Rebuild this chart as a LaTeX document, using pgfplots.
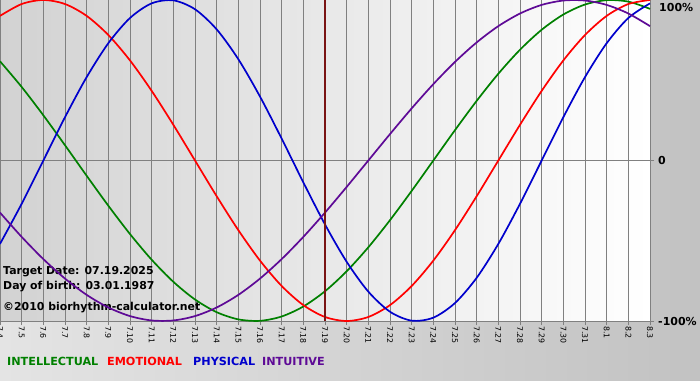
\documentclass[border=0pt]{standalone}
\usepackage{fontspec}
\setmainfont{DejaVu Sans}
\usepackage{pgfplots}
\pgfplotsset{compat=1.18}
\usepackage{pgfplotstable}
\definecolor{cint}{HTML}{008000}
\definecolor{cemo}{HTML}{FF0000}
\definecolor{cphy}{HTML}{0000CC}
\definecolor{cintu}{HTML}{5E0A96}
\definecolor{cgrid}{HTML}{808080}
\definecolor{ctarget}{HTML}{7A1414}
\definecolor{bgl}{HTML}{E4E4E4}
\definecolor{bgr}{HTML}{C2C2C2}
\definecolor{plotl}{HTML}{D2D2D2}

\pgfplotstableread{
d phy emo int intu
0 -0.5196 0.9010 0.6182 -0.3247
1 -0.2698 0.9749 0.4582 -0.4759
2 0 1 0.2817 -0.6142
3 0.2698 0.9749 0.0951 -0.7357
4 0.5196 0.9010 -0.0951 -0.8372
5 0.7308 0.7818 -0.2817 -0.9158
6 0.8879 0.6235 -0.4582 -0.9694
7 0.9791 0.4339 -0.6182 -0.9966
8 0.9977 0.2225 -0.7557 -0.9966
9 0.9423 0 -0.8660 -0.9694
10 0.8170 -0.2225 -0.9450 -0.9158
11 0.6311 -0.4339 -0.9898 -0.8372
12 0.3984 -0.6235 -0.9989 -0.7357
13 0.1362 -0.7818 -0.9718 -0.6142
14 -0.1362 -0.9010 -0.9096 -0.4759
15 -0.3984 -0.9749 -0.8146 -0.3247
16 -0.6311 -1 -0.6901 -0.1646
17 -0.8170 -0.9749 -0.5406 0
18 -0.9423 -0.9010 -0.3717 0.1646
19 -0.9977 -0.7818 -0.1893 0.3247
20 -0.9791 -0.6235 0 0.4759
21 -0.8879 -0.4339 0.1893 0.6142
22 -0.7308 -0.2225 0.3717 0.7357
23 -0.5196 0 0.5406 0.8372
24 -0.2698 0.2225 0.6901 0.9158
25 0 0.4339 0.8146 0.9694
26 0.2698 0.6235 0.9096 0.9966
27 0.5196 0.7818 0.9718 0.9966
28 0.7308 0.9010 0.9989 0.9694
29 0.8879 0.9749 0.9898 0.9158
30 0.9791 1 0.9450 0.8372
}\bio

\begin{document}
\begin{tikzpicture}
\useasboundingbox (0,0) rectangle (700pt,380pt);
\shade[left color=bgl, right color=bgr] (0,0) rectangle (700pt,380pt);
\begin{axis}[
  at={(0pt,59pt)}, anchor=south west,
  scale only axis, width=650pt, height=321pt,
  xmin=0, xmax=30, ymin=-1, ymax=1,
  clip=false,
  axis background/.style={left color=plotl, right color=white},
  axis x line*=bottom, axis y line*=right,
  axis line style={cgrid, line width=0.8pt, -},
  xtick={0,...,30},
  xticklabels={7.4,7.5,7.6,7.7,7.8,7.9,7.10,7.11,7.12,7.13,7.14,7.15,7.16,7.17,7.18,7.19,7.20,7.21,7.22,7.23,7.24,7.25,7.26,7.27,7.28,7.29,7.30,7.31,8.1,8.2,8.3},
  xticklabel style={rotate=-90, anchor=west, font=\fontsize{7.8}{9}\selectfont, inner sep=1pt},
  xmajorgrids, ymajorgrids,
  grid style={cgrid, line width=0.8pt},
  ytick={-1,0},
  yticklabels={-100\%,0},
  yticklabel style={font=\fontsize{11}{13}\bfseries, anchor=west, inner sep=2pt, xshift=2pt},
  extra y ticks={1},
  extra y tick labels={100\%},
  extra y tick style={grid=none, major tick length=0pt, yticklabel style={yshift=-7pt, xshift=5pt}},
  tick align=outside,
  major tick length=4pt,
  tick style={cgrid, line width=0.8pt},
  /pgf/number format/assume math mode=true,
]
\node[anchor=west, font=\fontsize{10.9}{12}\bfseries, inner sep=0pt] at (axis cs:0.14,-0.695) {Target Date: 07.19.2025};
\node[anchor=west, font=\fontsize{10.9}{12}\bfseries, inner sep=0pt] at (axis cs:0.14,-0.788) {Day of birth: 03.01.1987};
\node[anchor=west, font=\fontsize{10.9}{12}\bfseries, inner sep=0pt] at (axis cs:0.14,-0.913) {©2010 biorhythm-calculator.net};
\addplot[cint, line width=1.7pt, smooth] table[x=d, y=int] {\bio};
\addplot[cemo, line width=1.7pt, smooth] table[x=d, y=emo] {\bio};
\addplot[cphy, line width=1.7pt, smooth] table[x=d, y=phy] {\bio};
\addplot[cintu, line width=1.7pt, smooth] table[x=d, y=intu] {\bio};
\draw[ctarget, line width=2pt] (axis cs:15,-1) -- (axis cs:15,1);
\end{axis}
\begin{scope}[every node/.style={anchor=west, inner sep=0pt, font=\fontsize{11.2}{13}\bfseries}]
\node[cint] at (7pt,19pt) {INTELLECTUAL};
\node[cemo] at (107pt,19pt) {EMOTIONAL};
\node[cphy] at (193pt,19pt) {PHYSICAL};
\node[cintu] at (262pt,19pt) {INTUITIVE};
\end{scope}
\end{tikzpicture}
\end{document}
